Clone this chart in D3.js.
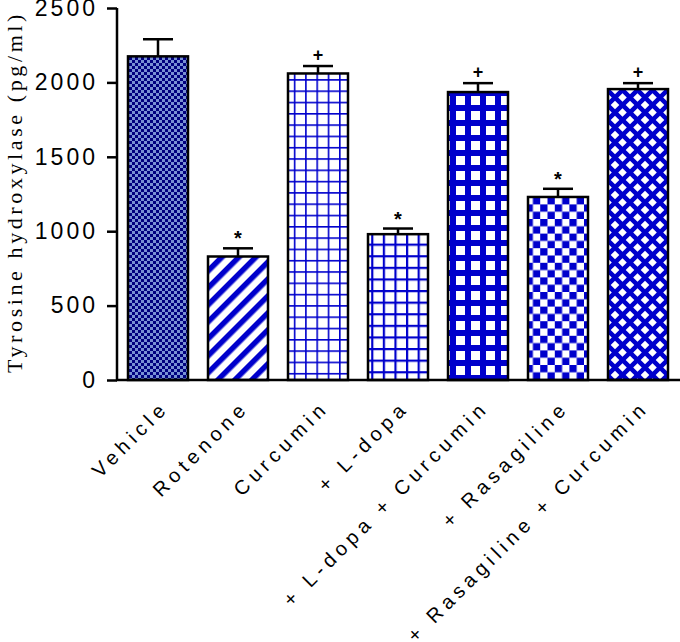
<!DOCTYPE html>
<html>
<head>
<meta charset="utf-8">
<script src="https://cdn.jsdelivr.net/npm/d3@7"></script>
<style>
  html, body { margin: 0; padding: 0; background: #fff; }
  svg { display: block; }
</style>
</head>
<body>
<svg id="chart" width="680" height="642"></svg>
<script>
// ---- data ----
const categories = ["Vehicle", "Rotenone", "Curcumin", "+ L-dopa", "+ L-dopa + Curcumin", "+ Rasagiline", "+ Rasagiline + Curcumin"];
const values = [2175, 830, 2060, 980, 1935, 1230, 1955];
const errors = [115, 55, 50, 38, 60, 55, 40];
const marks = ["", "*", "+", "*", "+", "*", "+"];
const yTicks = [0, 500, 1000, 1500, 2000, 2500];
const yTitle = "Tyrosine hydroxylase (pg/ml)";
const patternIds = ["pChecker", "pDiag", "pGridThin", "pGrid", "pGridThick", "pCheckBig", "pDiamond"];

// ---- setup ----
const svg = d3.select("#chart");
const BLUE = "#0000cc";
const x = d3.scaleBand().domain(categories).range([118, 678]).paddingInner(0.25).paddingOuter(0.125);
const y = d3.scaleLinear().domain([0, 2500]).range([380, 8]);

const defs = svg.append("defs");
{
  const p = defs.append("pattern").attr("id", "pChecker").attr("patternUnits", "userSpaceOnUse").attr("width", 6).attr("height", 6);
  p.append("rect").attr("width", 6).attr("height", 6).attr("fill", "#7890d4");
  p.append("rect").attr("width", 3).attr("height", 3).attr("fill", "#00007f");
  p.append("rect").attr("x", 3).attr("y", 3).attr("width", 3).attr("height", 3).attr("fill", "#00007f");
}
{
  const p = defs.append("pattern").attr("id", "pDiag").attr("patternUnits", "userSpaceOnUse").attr("width", 12).attr("height", 12).attr("patternTransform", "rotate(45)");
  p.append("rect").attr("width", 12).attr("height", 12).attr("fill", "#fff");
  p.append("rect").attr("width", 5.5).attr("height", 12).attr("fill", BLUE);
}
function grid(id, period, lw) {
  const p = defs.append("pattern").attr("id", id).attr("patternUnits", "userSpaceOnUse").attr("width", period).attr("height", period);
  p.append("rect").attr("width", period).attr("height", period).attr("fill", "#fff");
  p.append("rect").attr("width", lw).attr("height", period).attr("fill", BLUE);
  p.append("rect").attr("width", period).attr("height", lw).attr("fill", BLUE);
}
grid("pGridThin", 11.3, 1.6);
grid("pGrid", 11.6, 2.2);
grid("pGridThick", 15, 6);
{
  const s = 7.3;
  const p = defs.append("pattern").attr("id", "pCheckBig").attr("patternUnits", "userSpaceOnUse").attr("width", 2 * s).attr("height", 2 * s);
  p.append("rect").attr("width", 2 * s).attr("height", 2 * s).attr("fill", "#fff");
  p.append("rect").attr("width", s).attr("height", s).attr("fill", BLUE);
  p.append("rect").attr("x", s).attr("y", s).attr("width", s).attr("height", s).attr("fill", BLUE);
}
{
  const P = 15, h = 4.3;
  const p = defs.append("pattern").attr("id", "pDiamond").attr("patternUnits", "userSpaceOnUse").attr("width", P).attr("height", P);
  p.append("rect").attr("width", P).attr("height", P).attr("fill", BLUE);
  const dia = (cx, cy) => `M${cx},${cy - h}L${cx + h},${cy}L${cx},${cy + h}L${cx - h},${cy}Z`;
  p.append("path").attr("d", [dia(P / 2, P / 2), dia(0, 0), dia(P, 0), dia(0, P), dia(P, P)].join("")).attr("fill", "#fff");
}

// ---- bars ----
svg.append("g").selectAll("rect").data(categories).join("rect")
  .attr("x", d => x(d))
  .attr("y", (d, i) => y(values[i]))
  .attr("width", x.bandwidth())
  .attr("height", (d, i) => y(0) - y(values[i]))
  .attr("fill", (d, i) => `url(#${patternIds[i]})`)
  .attr("stroke", "#000").attr("stroke-width", 2.5);

// ---- error bars ----
const eg = svg.append("g").attr("stroke", "#000").attr("stroke-width", 2.5);
categories.forEach((c, i) => {
  const cx = x(c) + x.bandwidth() / 2;
  eg.append("line").attr("x1", cx).attr("x2", cx).attr("y1", y(values[i])).attr("y2", y(values[i] + errors[i]));
  eg.append("line").attr("x1", cx - 15).attr("x2", cx + 15).attr("y1", y(values[i] + errors[i])).attr("y2", y(values[i] + errors[i]));
});

// ---- significance marks ----
svg.append("g").selectAll("text").data(categories).join("text")
  .attr("x", d => x(d) + x.bandwidth() / 2)
  .attr("y", (d, i) => y(values[i] + errors[i]) - (marks[i] === "*" ? 0 : 5))
  .attr("dy", (d, i) => marks[i] === "*" ? "0.55em" : "0")
  .attr("text-anchor", "middle")
  .attr("font-family", "Liberation Sans, Arial, sans-serif")
  .attr("font-weight", "bold")
  .attr("font-size", (d, i) => marks[i] === "*" ? 20 : 18)
  .attr("fill", "#000")
  .attr("transform", (d, i) => marks[i] === "*" ? "translate(0,-14)" : null)
  .text((d, i) => marks[i]);

// ---- y axis ----
const yAxis = svg.append("g").attr("transform", "translate(117,0)")
  .call(d3.axisLeft(y).tickValues(yTicks).tickSize(10).tickPadding(9).tickFormat(d3.format("d")));
yAxis.select(".domain").attr("stroke-width", 2.5).attr("d", `M0,${y(2500)}V${y(0)}`);
yAxis.selectAll(".tick line").attr("stroke-width", 2.5);
yAxis.selectAll(".tick text")
  .attr("font-family", "Liberation Sans, Arial, sans-serif")
  .attr("font-size", 23).attr("letter-spacing", "3px").attr("fill", "#000");

// ---- x axis ----
const xAxis = svg.append("g").attr("transform", `translate(0,${y(0)})`)
  .call(d3.axisBottom(x).tickSize(0).tickPadding(0));
xAxis.select(".domain").attr("stroke-width", 2.5).attr("d", "M116,0H680");
xAxis.selectAll(".tick text")
  .attr("font-family", "Liberation Sans, Arial, sans-serif")
  .attr("font-size", 20).attr("letter-spacing", "4.9px").attr("fill", "#000")
  .attr("text-anchor", "end")
  .attr("dy", 0)
  .attr("transform", "translate(12,29) rotate(-45)");

// ---- y title ----
svg.append("text")
  .attr("transform", `translate(22,${(y(0) + y(2500)) / 2 - 2}) rotate(-90)`)
  .attr("text-anchor", "middle")
  .attr("font-family", "Liberation Serif, Times New Roman, serif")
  .attr("font-size", 22).attr("letter-spacing", "3.6px").attr("fill", "#000")
  .text(yTitle);
</script>
</body>
</html>
